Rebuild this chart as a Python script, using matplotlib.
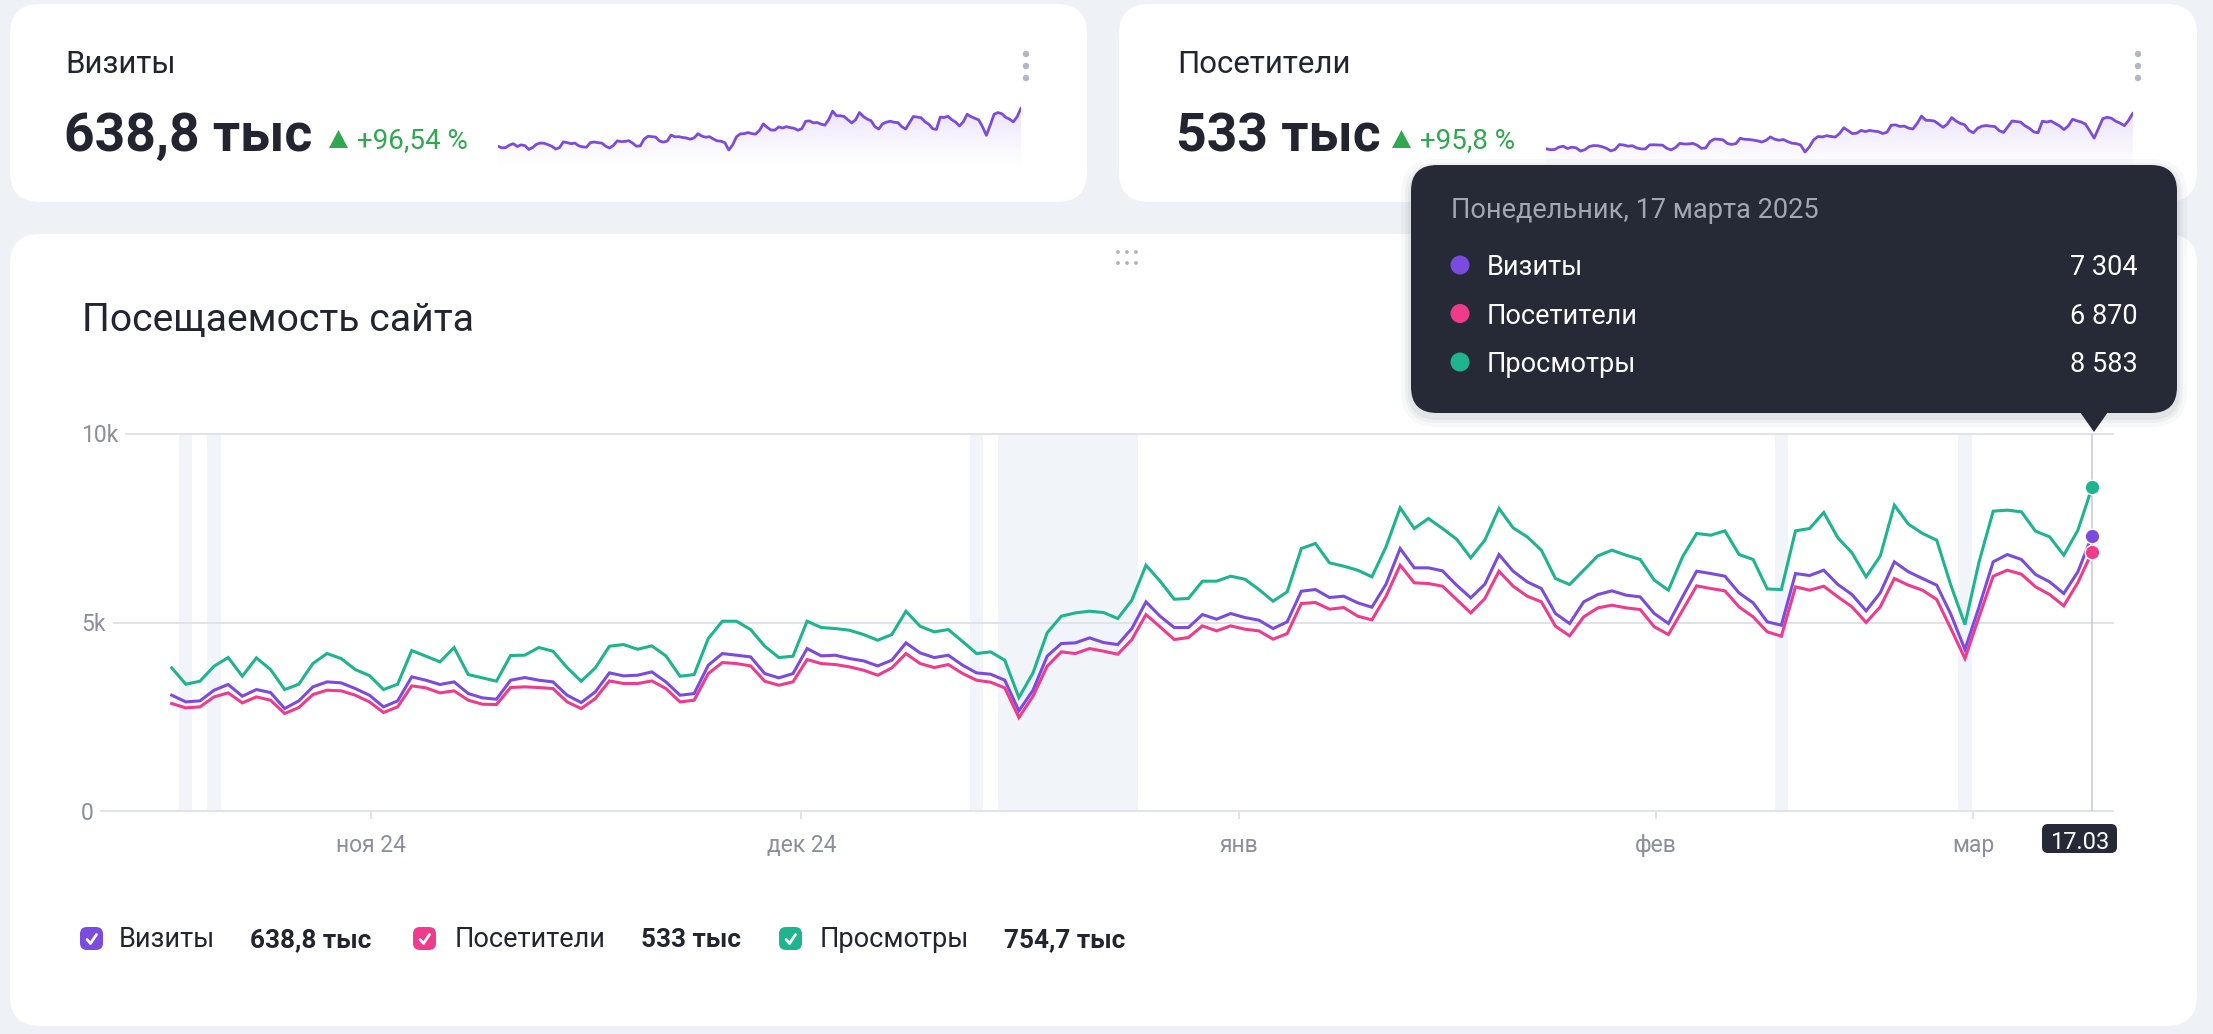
import numpy as np
import matplotlib
matplotlib.use('Agg')
import matplotlib.pyplot as plt
from matplotlib.patches import FancyBboxPatch, Polygon, Circle
from matplotlib.transforms import offset_copy
from matplotlib.colors import to_rgb

plt.rcParams['font.family'] = ['Roboto', 'DejaVu Sans']

# daily values, 1 Nov 2024 .. 17 Mar 2025
visits = [3072, 2895, 2921, 3204, 3355, 3045, 3222, 3142, 2718, 2921,
          3293, 3425, 3399, 3248, 3072, 2762, 2921, 3558, 3469, 3355,
          3425, 3116, 3001, 2965, 3469, 3540, 3469, 3425, 3072, 2876,
          3159, 3664, 3584, 3602, 3690, 3425, 3071, 3115, 3867, 4176,
          4132, 4088, 3646, 3531, 3646, 4309, 4115, 4132, 4044, 3982,
          3849, 4000, 4459, 4194, 4070, 4132, 3870, 3664, 3628, 3469,
          2656, 3204, 4106, 4442, 4460, 4592, 4468, 4415, 4840, 5547,
          5167, 4866, 4866, 5211, 5088, 5238, 5132, 5061, 4840, 5017,
          5830, 5875, 5662, 5698, 5521, 5405, 6016, 6963, 6450, 6450,
          6370, 5990, 5654, 6016, 6803, 6361, 6078, 5901, 5238, 4973,
          5548, 5742, 5840, 5725, 5680, 5238, 4973, 5680, 6361, 6299,
          6229, 5786, 5521, 5017, 4929, 6299, 6246, 6388, 6008, 5742,
          5309, 5786, 6609, 6344, 6167, 5990, 5221, 4283, 5415, 6609,
          6803, 6671, 6273, 6078, 5769, 6344, 7304]
visitors = [2851, 2736, 2762, 3027, 3133, 2868, 3027, 2939, 2585, 2744,
            3089, 3204, 3187, 3072, 2895, 2612, 2762, 3319, 3266, 3133,
            3187, 2939, 2833, 2824, 3275, 3293, 3275, 3248, 2895, 2717,
            2983, 3451, 3381, 3381, 3451, 3248, 2894, 2938, 3646, 3938,
            3911, 3849, 3442, 3336, 3425, 4017, 3911, 3885, 3823, 3734,
            3602, 3796, 4176, 3911, 3805, 3885, 3650, 3469, 3416, 3266,
            2479, 3045, 3840, 4221, 4177, 4309, 4239, 4159, 4548, 5211,
            4884, 4548, 4601, 4911, 4778, 4911, 4822, 4778, 4557, 4707,
            5503, 5530, 5353, 5397, 5167, 5070, 5698, 6520, 6052, 6034,
            5963, 5610, 5256, 5636, 6361, 5963, 5698, 5548, 4902, 4646,
            5150, 5388, 5459, 5388, 5344, 4885, 4681, 5327, 5972, 5901,
            5840, 5415, 5150, 4752, 4637, 5946, 5857, 5963, 5680, 5415,
            5000, 5415, 6167, 5990, 5857, 5610, 4840, 4045, 5150, 6229,
            6388, 6282, 5946, 5742, 5442, 6061, 6870]
views = [3797, 3363, 3443, 3841, 4071, 3576, 4062, 3752, 3222, 3363,
         3912, 4177, 4044, 3752, 3593, 3222, 3363, 4257, 4106, 3956,
         4336, 3620, 3532, 3443, 4124, 4133, 4336, 4239, 3806, 3442,
         3796, 4371, 4415, 4291, 4380, 4114, 3575, 3619, 4574, 5034,
         5034, 4813, 4371, 4070, 4106, 5034, 4866, 4840, 4795, 4680,
         4530, 4680, 5299, 4901, 4751, 4813, 4500, 4177, 4221, 4000,
         3009, 3664, 4725, 5167, 5255, 5300, 5264, 5105, 5592, 6520,
         6096, 5618, 5636, 6096, 6096, 6228, 6149, 5875, 5565, 5813,
         6962, 7095, 6582, 6494, 6387, 6211, 7007, 8041, 7493, 7759,
         7493, 7210, 6715, 7184, 8024, 7511, 7272, 6918, 6167, 6007,
         6388, 6768, 6918, 6786, 6671, 6123, 5857, 6742, 7361, 7316,
         7431, 6803, 6671, 5890, 5875, 7431, 7493, 7918, 7246, 6848,
         6211, 6759, 8112, 7608, 7361, 7184, 5990, 4946, 6609, 7953,
         7980, 7935, 7422, 7272, 6786, 7449, 8583]

series_names = ['Визиты', 'Посетители', 'Просмотры']
series_totals = ['638,8 тыс', '533 тыс', '754,7 тыс']
card_changes = ['+96,54 %', '+95,8 %']
month_labels = ['ноя 24', 'дек 24', 'янв', 'фев', 'мар']
month_days = [30, 31, 31, 28, 17]
ytick_vals = [0, 5000, 10000]
ytick_labels = ['0', '5k', '10k']
highlight = [('2024-11-02', '2024-11-02'), ('2024-11-04', '2024-11-04'),
             ('2024-12-28', '2024-12-28'), ('2024-12-30', '2025-01-08'),
             ('2025-02-23', '2025-02-23'), ('2025-03-08', '2025-03-08')]
tooltip_title = 'Понедельник, 17 марта 2025'
current_label = '17.03'

PURPLE = '#7b4be0'
PINK = '#f03b8d'
GREEN = '#1db48e'
DARK = '#22252f'
GRAY = '#8b8f9b'
GRID = '#e1e3eb'
BAND = '#f1f5f9'
UP = '#2fa84f'
TIP = '#262a37'

dates = np.arange('2024-11-01', '2025-03-18', dtype='datetime64[D]')
n = len(dates)
x = np.arange(n)

W, H = 2213, 1034
fig = plt.figure(figsize=(W / 100, H / 100), dpi=100)
fig.patch.set_facecolor('#eef1f5')


def rect(x0, y0, x1, y1):
    return [x0 / W, 1 - y1 / H, (x1 - x0) / W, (y1 - y0) / H]


def pix_axes(z):
    a = fig.add_axes([0, 0, 1, 1], zorder=z)
    a.set_xlim(0, W)
    a.set_ylim(H, 0)
    a.axis('off')
    return a


def rbox(a, x0, y0, w, h, r, fc, **kw):
    a.add_patch(FancyBboxPatch((x0, y0), w, h, boxstyle=f'round,pad=0,rounding_size={r}',
                               fc=fc, ec='none', **kw))


bg = pix_axes(0)
rbox(bg, 10, 4, 1077, 198, 30, 'white')
rbox(bg, 1119, 4, 1078, 198, 30, 'white')
rbox(bg, 10, 234, 2187, 792, 30, 'white')

# kpi cards
for cx, name, total, change, tri_x in [(65, series_names[0], series_totals[0], card_changes[0], 329),
                                       (1177, series_names[1], series_totals[1], card_changes[1], 1392)]:
    bg.text(cx, 73, name, fontsize=22.5, color=DARK, va='baseline')
    bg.text(cx - 1, 151, total, fontsize=38.5, color=DARK, va='baseline', fontweight='bold')
    bg.add_patch(Polygon([(tri_x, 148), (tri_x + 19, 148), (tri_x + 9.5, 130)], closed=True, fc=UP, ec='none'))
    bg.text(tri_x + 28, 148, change, fontsize=20, color=UP, va='baseline')

for kx in [1026, 2138]:
    for ky in [54, 66, 78]:
        bg.add_patch(Circle((kx, ky), 3.2, fc='#b4b8c2', ec='none'))

# drag handle
for hx in [1118, 1127, 1136]:
    for hy in [252, 263]:
        bg.add_patch(Circle((hx, hy), 1.9, fc='#aeb2bd', ec='none'))

bg.text(82, 331, 'Посещаемость сайта', fontsize=28.2, color=DARK, va='baseline')


def spark(series, x0, x1, y_top, y_hi, y_lo, y_bot):
    s = np.array(series, dtype=float)
    k = (s.max() - s.min()) / (y_lo - y_hi)
    hi = s.max() + (y_hi - y_top) * k
    lo = s.min() - (y_bot - y_lo) * k
    sa = fig.add_axes(rect(x0, y_top, x1, y_bot), zorder=1)
    sa.axis('off')
    poly = sa.fill_between(x, s, lo, color='none', lw=0)
    grad = np.zeros((256, 1, 4))
    grad[..., :3] = to_rgb(PURPLE)
    grad[:, 0, 3] = 0.2 * np.linspace(0, 1, 256) ** 1.5
    im = sa.imshow(grad, extent=(0, n - 1, lo, hi), origin='lower', aspect='auto', zorder=1)
    im.set_clip_path(poly.get_paths()[0], transform=sa.transData)
    sa.plot(x, s, color=PURPLE, lw=2, zorder=2, solid_capstyle='round')
    sa.set_xlim(0, n - 1)
    sa.set_ylim(lo, hi)


spark(visits, 498, 1021, 100, 108, 150, 174)
spark(visitors, 1546, 2133, 104, 113, 152, 178)

# main chart
ax = fig.add_axes(rect(81, 434, 2120, 811), zorder=1)
ax.set_facecolor('none')
x_lo = (81 - 171.7) / 14.12
x_hi = (2120 - 171.7) / 14.12
ax.set_xlim(x_lo, x_hi)
ax.set_ylim(0, 10000)
for s in ax.spines.values():
    s.set_visible(False)
ax.set_xticks([])
ax.set_yticks([])

for a, b in highlight:
    ia = int((np.datetime64(a) - dates[0]).astype(int))
    ib = int((np.datetime64(b) - dates[0]).astype(int))
    ax.axvspan(ia - 0.47, ib + 0.47, color=BAND, lw=0, zorder=0)

lab_tr = offset_copy(ax.transData, fig=fig, y=-8.5, units='dots')
for v, lab in zip(ytick_vals, ytick_labels):
    start = x_lo + (8 + 12.3 * len(lab)) / 14.12
    ax.plot([start, 137.5], [v, v], color=GRID, lw=1.4, zorder=1, clip_on=False)
    ax.text(x_lo, v, lab, transform=lab_tr, fontsize=16.5, color=GRAY, va='baseline', ha='left')

xl_tr = offset_copy(ax.transData, fig=fig, y=-41, units='dots')
start = 0
for lab, nd in zip(month_labels, month_days):
    t = start + (nd - 1) / 2 - 0.4
    ax.plot([t, t], [0, -190], color=GRID, lw=1.4, clip_on=False)
    ax.text(t, 0, lab, transform=xl_tr, fontsize=16.5, color=GRAY, ha='center', va='baseline')
    start += nd

ax.plot([n - 1, n - 1], [0, 10000], color='#c9ccda', lw=1.2, zorder=1)

for s, c in [(views, GREEN), (visits, PURPLE), (visitors, PINK)]:
    ax.plot(x, s, color=c, lw=2.2, zorder=3, solid_joinstyle='miter')
for s, c in [(views, GREEN), (visits, PURPLE), (visitors, PINK)]:
    ax.plot(x[-1], s[-1], 'o', color=c, ms=10.5, mec='white', mew=1.0, zorder=4)

# legend
for bx, name, nx, total, tx, c in [(80, series_names[0], 119, series_totals[0], 250, PURPLE),
                                   (413, series_names[1], 455, series_totals[1], 641, PINK),
                                   (779, series_names[2], 820, series_totals[2], 1004, GREEN)]:
    rbox(bg, bx, 927, 23, 23, 7, c)
    bg.plot([bx + 7, bx + 10.5, bx + 16.5], [939.5, 943.5, 934.5], color='white', lw=2,
            solid_capstyle='round', solid_joinstyle='round')
    bg.text(nx, 947, name, fontsize=19.5, color=DARK, va='baseline')
    bg.text(tx, 947, total, fontsize=18.8, color=DARK, va='baseline', fontweight='bold')

# tooltip and current date label
ov = pix_axes(5)
for grow, alpha in [(10, 0.03), (6, 0.04), (3, 0.05)]:
    rbox(ov, 1411 - grow, 165 - grow + 4, 766 + 2 * grow, 248 + 2 * grow, 26 + grow, '#1c2030', alpha=alpha)
rbox(ov, 1411, 165, 766, 248, 26, TIP)
ov.add_patch(Polygon([(2080, 412), (2108, 412), (2094, 432)], closed=True, fc=TIP, ec='none'))
ov.text(1451, 218, tooltip_title, fontsize=19.5, color='#a3a7b3', va='baseline')
for k, (name, s, c) in enumerate(zip(series_names, [visits, visitors, views], [PURPLE, PINK, GREEN])):
    yb = 275 + 48.5 * k
    ov.add_patch(Circle((1460, yb - 10), 9.5, fc=c, ec='none'))
    ov.text(1487, yb, name, fontsize=19.5, color='white', va='baseline')
    ov.text(2138, yb, f'{s[-1]:,}'.replace(',', ' '), fontsize=19.5, color='white', va='baseline', ha='right')

rbox(ov, 2042, 824, 75, 29, 6, TIP)
ov.text(2079.5, 849, current_label, fontsize=17, color='white', va='baseline', ha='center')

fig.savefig('out.png', dpi=100, facecolor=fig.get_facecolor())
